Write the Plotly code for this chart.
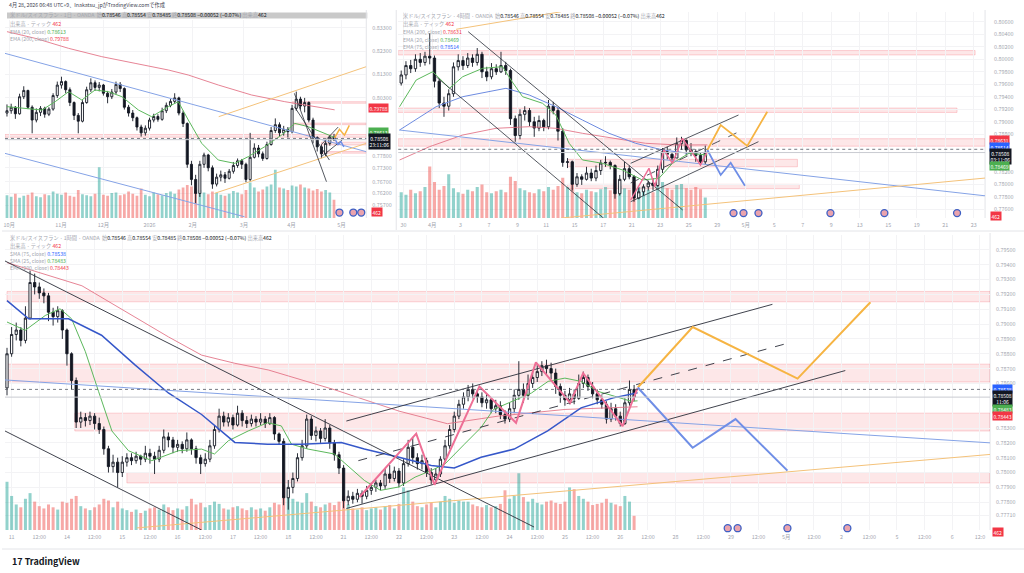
import plotly.graph_objects as go

W, H = 1024, 573
FONT = "Noto Sans CJK JP, Noto Sans, sans-serif"

# last bar shown in every header
last_open, last_high, last_low, last_close = 0.78546, 0.78554, 0.78485, 0.78508
last_change, last_change_pct, last_volume = -0.00052, -0.07, 462
prev_close = 0.78560

# price zones (shared by the three charts)
zone_bands = [(0.8007, 0.8014), (0.7915, 0.7922), (0.7861, 0.7873), (0.7828, 0.7840), (0.7793, 0.7800)]

# ---------------- daily chart (top left), one candle per 2 sessions ----------------
a_open0 = 0.7965
a_close = [0.7975, 0.7990, 0.7962, 0.8035, 0.8062, 0.7990, 0.7935, 0.7968, 0.7985, 0.7960,
           0.7982, 0.8040, 0.8085, 0.8100, 0.8065, 0.8010, 0.7955, 0.7930, 0.8010, 0.8065,
           0.8095, 0.8075, 0.8085, 0.8050, 0.8035, 0.8055, 0.8088, 0.8070, 0.7990, 0.7965,
           0.7945, 0.7905, 0.7880, 0.7900, 0.7935, 0.7950, 0.7938, 0.7975, 0.7998, 0.8015,
           0.8030, 0.7965, 0.7920, 0.7745, 0.7680, 0.7620, 0.7745, 0.7785, 0.7730, 0.7660,
           0.7690, 0.7700, 0.7685, 0.7715, 0.7740, 0.7760, 0.7745, 0.7680, 0.7775, 0.7815,
           0.7790, 0.7770, 0.7830, 0.7890, 0.7915, 0.7880, 0.7895, 0.7885, 0.7985, 0.8025,
           0.7995, 0.8010, 0.7935, 0.7860, 0.7820, 0.7790, 0.7835, 0.7862, 0.78508]
a_high = [0.8002, 0.8005, 0.7995, 0.8048, 0.8080, 0.8065, 0.7998, 0.7985, 0.7995, 0.7992,
          0.7990, 0.8050, 0.8100, 0.8121, 0.8105, 0.8075, 0.8015, 0.7965, 0.8020, 0.8078,
          0.8114, 0.8105, 0.8098, 0.8090, 0.8060, 0.8068, 0.8100, 0.8098, 0.8075, 0.8000,
          0.7978, 0.7950, 0.7915, 0.7912, 0.7945, 0.7962, 0.7960, 0.7988, 0.8010, 0.8025,
          0.8050, 0.8035, 0.7975, 0.7925, 0.7760, 0.7700, 0.7760, 0.7795, 0.7790, 0.7740,
          0.7705, 0.7718, 0.7712, 0.7725, 0.7755, 0.7770, 0.7768, 0.7752, 0.7880, 0.7835,
          0.7828, 0.7800, 0.7842, 0.7905, 0.7942, 0.7925, 0.7910, 0.7905, 0.8000, 0.8057,
          0.8035, 0.8030, 0.8015, 0.7945, 0.7865, 0.7830, 0.7845, 0.7870, 0.7876]
a_low = [0.7950, 0.7962, 0.7940, 0.7958, 0.8025, 0.7982, 0.7878, 0.7925, 0.7952, 0.7945,
         0.7952, 0.7975, 0.8030, 0.8070, 0.8050, 0.7995, 0.7935, 0.7878, 0.7925, 0.8005,
         0.8055, 0.8060, 0.8058, 0.8040, 0.8007, 0.8025, 0.8045, 0.8055, 0.7980, 0.7950,
         0.7930, 0.7890, 0.7864, 0.7868, 0.7890, 0.7925, 0.7928, 0.7932, 0.7965, 0.7990,
         0.8005, 0.7955, 0.7905, 0.7730, 0.7655, 0.7578, 0.7605, 0.7730, 0.7715, 0.7640,
         0.7650, 0.7672, 0.7665, 0.7680, 0.7705, 0.7730, 0.7725, 0.7668, 0.7670, 0.7770,
         0.7775, 0.7760, 0.7765, 0.7825, 0.7880, 0.7865, 0.7868, 0.7860, 0.7878, 0.7975,
         0.7980, 0.7968, 0.7925, 0.7835, 0.7800, 0.7771, 0.7780, 0.7825, 0.7845]
a_vol = [45, 42, 48, 40, 44, 46, 50, 43, 41, 47,
         45, 52, 48, 46, 50, 44, 42, 55, 47, 45,
         43, 48, 100, 46, 44, 49, 50, 45, 47, 52,
         48, 44, 58, 46, 43, 50, 47, 45, 49, 52,
         48, 56, 60, 65, 62, 58, 55, 50, 47, 52,
         49, 46, 44, 48, 53, 50, 47, 55, 70, 60,
         52, 56, 62, 66, 95, 60, 58, 55, 64, 62,
         66, 60, 58, 54, 57, 52, 55, 50, 36]
a_ema200_d = [0, 13.5, 29.4, 45.2, 61.1, 77, 86.5, 100.8, 116.7, 132.5, 156.3]
a_ema200_p = [0.83142, 0.82856, 0.82427, 0.82070, 0.81783, 0.81497, 0.81282, 0.80853, 0.80424, 0.80138, 0.79788]
a_ema20_d = [0, 10.3, 16.7, 23, 29.4, 35.7, 42, 48.4, 54.8, 62.7, 69, 77, 81.7, 86.5, 92.9,
             100.8, 108.7, 115.1, 123, 131, 137.3, 143.7, 156]
a_ema20_p = [0.79924, 0.79852, 0.79780, 0.80138, 0.80567, 0.80209, 0.80639, 0.80567, 0.80353, 0.79780,
             0.79494, 0.79924, 0.80138, 0.79351, 0.78350, 0.77634, 0.77491, 0.77778, 0.78207, 0.78707,
             0.79208, 0.79065, 0.78613]
a_blue_top = ([-0.95, 171.4], [0.82212, 0.77992])
a_blue_bottom = ([-0.95, 113.3], [0.77920, 0.75200])
a_orange_top = ([101.0, 171.4], [0.79494, 0.81640])
a_orange_bottom = ([99.0, 171.4], [0.76204, 0.78350])
a_fall_1 = ([137.1, 152.4], [0.80496, 0.76704])
a_fall_2 = ([137.1, 153.8], [0.79923, 0.77634])
a_rise_1 = ([150.0, 160.0], [0.7778, 0.7850])
a_rise_2 = ([150.0, 158.0], [0.7830, 0.7905])
a_up_path = ([156.2, 158.6, 161.0, 163.3], [0.7857, 0.7895, 0.7870, 0.7912])
a_down_path = ([156.2, 157.9, 159.3, 160.7], [0.7857, 0.7830, 0.7842, 0.7820])
a_zones = [(135.7, 171.4, 0), (135.7, 171.4, 1), (-0.95, 171.4, 2), (150.0, 171.4, 3), (150.0, 171.4, 4)]
a_events = [158.6, 165.2, 169.0]
a_tick_pos = [1, 25.7, 46, 68, 88.6, 113, 135.7, 159.5]
a_tick_labels = ["10月", "11月", "12月", "2026", "2月", "3月", "4月", "5月"]
a_price_ticks = [0.833, 0.823, 0.813, 0.803, 0.778, 0.773, 0.767, 0.762, 0.757]

# ---------------- 4h chart (top right), one candle per 2 bars ----------------
b_open0 = 0.7962
b_close = [0.7975, 0.7990, 0.7985, 0.8000, 0.7995, 0.8005, 0.8002, 0.7965, 0.7930, 0.7925,
           0.7945, 0.7988, 0.7998, 0.7990, 0.8002, 0.7995, 0.8008, 0.7980, 0.7972, 0.7985,
           0.7980, 0.7990, 0.7982, 0.7905, 0.7878, 0.7912, 0.7918, 0.7900, 0.7890, 0.7902,
           0.7892, 0.7925, 0.7918, 0.7885, 0.7835, 0.7836, 0.7800, 0.7812, 0.7808, 0.7818,
           0.7810, 0.7822, 0.7834, 0.7835, 0.7830, 0.7785, 0.7808, 0.7825, 0.7812, 0.7778,
           0.7788, 0.7796, 0.7802, 0.7798, 0.7824, 0.7852, 0.7848, 0.7842, 0.7865, 0.7870,
           0.7855, 0.7852, 0.7846, 0.7836, 0.78508]
b_high = [0.7982, 0.7997, 0.7999, 0.8008, 0.8010, 0.8012, 0.8042, 0.8006, 0.7970, 0.7940,
          0.7952, 0.7995, 0.8008, 0.8005, 0.8010, 0.8008, 0.8018, 0.8012, 0.7988, 0.7994,
          0.7992, 0.8012, 0.7996, 0.7985, 0.7910, 0.7920, 0.7925, 0.7922, 0.7908, 0.7910,
          0.7905, 0.7935, 0.7932, 0.7922, 0.7890, 0.7842, 0.7838, 0.7818, 0.7816, 0.7828,
          0.7825, 0.7830, 0.7839, 0.7845, 0.7838, 0.7832, 0.7815, 0.7836, 0.7830, 0.7815,
          0.7795, 0.7800, 0.7806, 0.7810, 0.7830, 0.7858, 0.7860, 0.7852, 0.7875, 0.7876,
          0.7872, 0.7866, 0.7856, 0.7850, 0.7862]
b_low = [0.7958, 0.7968, 0.7978, 0.7980, 0.7988, 0.7990, 0.7992, 0.7955, 0.7922, 0.7908,
         0.7918, 0.7940, 0.7982, 0.7983, 0.7986, 0.7988, 0.7990, 0.7970, 0.7965, 0.7968,
         0.7975, 0.7978, 0.7975, 0.7895, 0.7868, 0.7872, 0.7902, 0.7893, 0.7876, 0.7885,
         0.7885, 0.7888, 0.7912, 0.7870, 0.7828, 0.7826, 0.7790, 0.7796, 0.7799, 0.7806,
         0.7805, 0.7805, 0.7815, 0.7828, 0.7824, 0.7777, 0.7782, 0.7805, 0.7808, 0.7772,
         0.7776, 0.7782, 0.7790, 0.7790, 0.7796, 0.7818, 0.7840, 0.7833, 0.7842, 0.7855,
         0.7846, 0.7845, 0.7836, 0.7830, 0.7832]
b_vol = [50, 45, 55, 48, 52, 60, 100, 70, 55, 62,
         85, 58, 50, 47, 55, 52, 60, 65, 50, 48,
         52, 55, 50, 80, 72, 58, 54, 50, 48, 56,
         52, 60, 55, 62, 78, 60, 66, 50, 48, 55,
         52, 50, 56, 60, 54, 75, 62, 58, 55, 72,
         60, 52, 55, 50, 62, 70, 58, 55, 64, 66,
         58, 55, 60, 56, 40]
b_ema20_k = [-0.7, 6.3, 13.3, 20.3, 25.9, 34.3, 42.7, 46.2, 51.1, 59.5,
             65.1, 70.7, 76.3, 84.7, 93.1, 101.5, 108.5, 114.2, 121.1, 128.9]
b_ema20_p = [0.79242, 0.79669, 0.79802, 0.79536, 0.79722, 0.79856, 0.79882, 0.79669, 0.79402, 0.79296,
             0.79109, 0.78656, 0.78390, 0.78336, 0.78230, 0.78070, 0.78096, 0.78336, 0.78496, 0.78469]
b_ema75_k = [-0.7, 14.7, 25.9, 37.1, 44.1, 53.9, 65.1, 76.3, 87.5, 98.7, 110, 121.1, 128.9]
b_ema75_p = [0.78869, 0.79242, 0.79402, 0.79482, 0.79536, 0.79429, 0.79242, 0.79029, 0.78816, 0.78656,
             0.78550, 0.78496, 0.78514]
b_ema200_k = [-0.7, 11.9, 25.9, 39.9, 53.9, 65.1, 76.3, 88.9, 102.9, 116.9, 128.9]
b_ema200_p = [0.78389, 0.78602, 0.78789, 0.78896, 0.78922, 0.78896, 0.78816, 0.78736, 0.78656, 0.78629, 0.78631]
b_fall_top = ([28.2, 118.5], [0.80442, 0.77589])
b_fall_bottom = ([14.7, 86.1], [0.79722, 0.77429])
b_rise_bottom = ([96.6, 150.4], [0.77722, 0.78682])
b_rise_top = ([96.6, 142.0], [0.78336, 0.79109])
b_rise_mid = ([96.6, 143.7], [0.78021, 0.78869])
b_blue_trend = ([-0.8, 245.8], [0.78869, 0.77816])
b_orange_low = ([67.2, 245.8], [0.77460, 0.78100])
b_orange_high = ([23.1, 67.2], [0.80480, 0.80760])
b_zigzag = ([96.6, 104.3, 106.8, 110.6, 114.2, 118.4, 126.0, 128.9],
            [0.77749, 0.78256, 0.77962, 0.78549, 0.78336, 0.78736, 0.78309, 0.78522])
b_up_path = ([128.9, 134.5, 145.7, 154.1], [0.78549, 0.78949, 0.78613, 0.79162])
b_down_path = ([128.9, 134.5, 138.7, 144.7], [0.78549, 0.78149, 0.78346, 0.77978])
b_zones = [(-1.3, 241.6, 0), (-1.3, 234.0, 1), (-1.3, 245.8, 2), (70.0, 166.8, 3), (70.0, 167.6, 4)]
b_events = [139.9, 144.1, 150.4, 180.7, 203.4, 234.0]
b_tick_labels = ["30", "4月", "3", "7", "9", "11", "15", "17", "21", "23", "25", "29",
                 "5月", "5", "7", "9", "13", "15", "19", "21", "23"]
b_price_ticks = [0.806, 0.804, 0.802, 0.800, 0.798, 0.796, 0.794, 0.792, 0.790, 0.788,
                 0.782, 0.780, 0.778, 0.776]

# ---------------- 1h chart (bottom), one candle per 2 hours ----------------
c_open0 = 0.7857
c_close = [0.7880, 0.7893, 0.7896, 0.7889, 0.7904, 0.7928, 0.7925, 0.7921, 0.7919, 0.7908,
           0.7905, 0.7909, 0.7896, 0.7880, 0.7862, 0.7834, 0.7837, 0.7835, 0.7838, 0.7833,
           0.7829, 0.7816, 0.7804, 0.7807, 0.7800, 0.7807, 0.7810, 0.7808, 0.7811, 0.7809,
           0.7813, 0.7811, 0.7809, 0.7815, 0.7824, 0.7822, 0.7817, 0.7819, 0.7816, 0.7822,
           0.7816, 0.7810, 0.7806, 0.7809, 0.7818, 0.7829, 0.7838, 0.7834, 0.7837, 0.7832,
           0.7840, 0.7835, 0.7833, 0.7836, 0.7834, 0.7836, 0.7833, 0.7837, 0.7826, 0.7821,
           0.7783, 0.7790, 0.7796, 0.7810, 0.7818, 0.7836, 0.7825, 0.7828, 0.7823, 0.7830,
           0.7820, 0.7812, 0.7803, 0.7781, 0.7784, 0.7782, 0.7786, 0.7784, 0.7788, 0.7790,
           0.7793, 0.7791, 0.7799, 0.7796, 0.7801, 0.7793, 0.7806, 0.7817, 0.7810, 0.7806,
           0.7808, 0.7800, 0.7795, 0.7799, 0.7809, 0.7818, 0.7829, 0.7838, 0.7846, 0.7851,
           0.7856, 0.7853, 0.7851, 0.7847, 0.7849, 0.7843, 0.7845, 0.7839, 0.7836, 0.7843,
           0.7852, 0.7856, 0.7852, 0.7860, 0.7864, 0.7868, 0.7872, 0.7870, 0.7867, 0.7858,
           0.7852, 0.7849, 0.7853, 0.7850, 0.7860, 0.7864, 0.7858, 0.7853, 0.7849, 0.7846,
           0.7836, 0.7843, 0.7838, 0.7833, 0.7847, 0.7856, 0.78508]
c_high = [0.7884, 0.7898, 0.7901, 0.7898, 0.7912, 0.7936, 0.7934, 0.7928, 0.7924, 0.7921,
          0.7911, 0.7912, 0.7910, 0.7897, 0.7881, 0.7864, 0.7841, 0.7840, 0.7841, 0.7840,
          0.7837, 0.7831, 0.7818, 0.7812, 0.7810, 0.7811, 0.7813, 0.7813, 0.7814, 0.7812,
          0.7818, 0.7816, 0.7814, 0.7818, 0.7829, 0.7827, 0.7824, 0.7822, 0.7821, 0.7827,
          0.7823, 0.7818, 0.7812, 0.7813, 0.7822, 0.7832, 0.7843, 0.7841, 0.7840, 0.7839,
          0.7845, 0.7842, 0.7838, 0.7839, 0.7838, 0.7840, 0.7838, 0.7840, 0.7838, 0.7827,
          0.7823, 0.7795, 0.7800, 0.7813, 0.7822, 0.7839, 0.7838, 0.7831, 0.7830, 0.7836,
          0.7832, 0.7822, 0.7814, 0.7805, 0.7788, 0.7787, 0.7789, 0.7788, 0.7791, 0.7793,
          0.7795, 0.7795, 0.7803, 0.7805, 0.7804, 0.7803, 0.7809, 0.7822, 0.7824, 0.7813,
          0.7812, 0.7810, 0.7803, 0.7803, 0.7811, 0.7822, 0.7832, 0.7841, 0.7849, 0.7854,
          0.7859, 0.7860, 0.7856, 0.7854, 0.7853, 0.7850, 0.7849, 0.7848, 0.7842, 0.7847,
          0.7856, 0.7875, 0.7860, 0.7866, 0.7868, 0.7873, 0.7875, 0.7876, 0.7874, 0.7870,
          0.7860, 0.7855, 0.7857, 0.7856, 0.7866, 0.7868, 0.7866, 0.7861, 0.7856, 0.7852,
          0.7848, 0.7847, 0.7846, 0.7841, 0.7850, 0.7862, 0.7859]
c_low = [0.7852, 0.7878, 0.7889, 0.7885, 0.7887, 0.7903, 0.7920, 0.7917, 0.7914, 0.7902,
         0.7899, 0.7901, 0.7890, 0.7872, 0.7856, 0.7830, 0.7830, 0.7831, 0.7832, 0.7829,
         0.7826, 0.7812, 0.7800, 0.7800, 0.7790, 0.7797, 0.7804, 0.7805, 0.7806, 0.7805,
         0.7807, 0.7806, 0.7799, 0.7807, 0.7813, 0.7817, 0.7813, 0.7814, 0.7813, 0.7814,
         0.7812, 0.7806, 0.7799, 0.7804, 0.7807, 0.7816, 0.7827, 0.7831, 0.7831, 0.7829,
         0.7831, 0.7831, 0.7830, 0.7831, 0.7831, 0.7832, 0.7830, 0.7832, 0.7822, 0.7819,
         0.7778, 0.7775, 0.7786, 0.7794, 0.7808, 0.7816, 0.7822, 0.7821, 0.7820, 0.7821,
         0.7816, 0.7808, 0.7799, 0.7776, 0.7778, 0.7779, 0.7780, 0.7779, 0.7782, 0.7785,
         0.7787, 0.7788, 0.7789, 0.7793, 0.7794, 0.7790, 0.7791, 0.7804, 0.7806, 0.7802,
         0.7802, 0.7797, 0.7792, 0.7793, 0.7797, 0.7807, 0.7816, 0.7827, 0.7836, 0.7843,
         0.7848, 0.7850, 0.7847, 0.7844, 0.7843, 0.7840, 0.7840, 0.7836, 0.7833, 0.7834,
         0.7840, 0.7849, 0.7847, 0.7849, 0.7857, 0.7861, 0.7865, 0.7866, 0.7863, 0.7853,
         0.7847, 0.7845, 0.7846, 0.7846, 0.7849, 0.7857, 0.7855, 0.7850, 0.7846, 0.7843,
         0.7833, 0.7834, 0.7835, 0.7831, 0.7832, 0.7845, 0.7848]
c_vol = [85, 60, 45, 40, 55, 65, 50, 42, 38, 45,
         40, 36, 50, 48, 55, 60, 42, 38, 35, 40,
         45, 55, 52, 40, 50, 38, 35, 32, 36, 30,
         34, 38, 40, 36, 45, 40, 35, 38, 36, 42,
         55, 45, 48, 40, 44, 50, 46, 38, 36, 40,
         42, 38, 35, 40, 36, 38, 34, 40, 48, 45,
         80, 70, 55, 50, 48, 65, 50, 42, 40, 45,
         48, 44, 50, 60, 45, 38, 36, 40, 35, 38,
         40, 36, 42, 44, 38, 46, 75, 70, 50, 42,
         40, 45, 48, 40, 50, 60, 55, 48, 52, 50,
         50, 45, 42, 40, 44, 40, 42, 46, 70, 55,
         60, 100, 58, 50, 55, 48, 45, 50, 52, 48,
         46, 50, 75, 72, 60, 55, 50, 44, 46, 48,
         55, 48, 45, 42, 60, 50, 25]
c_ema200_h = [0, 32.5, 55.5, 70, 84.4, 98.8, 113.3, 127.7, 142, 170, 191, 213, 242, 273.5]
c_ema200_p = [0.79414, 0.79258, 0.79047, 0.78914, 0.78791, 0.78736, 0.78691, 0.78625, 0.78558,
              0.78414, 0.78329, 0.78380, 0.78425, 0.78443]
c_sma75_h = [0, 9.4, 26.7, 41, 55.5, 70, 84.4, 98.8, 113, 127.7, 145, 155, 170, 184, 194,
             205.6, 220, 234.5, 249, 263, 273.5]
c_sma75_p = [0.79158, 0.79036, 0.79036, 0.78925, 0.78725, 0.78536, 0.78391, 0.78203, 0.78191, 0.78191,
             0.78203, 0.78158, 0.78103, 0.78047, 0.78031, 0.78103, 0.78158, 0.78280, 0.78436, 0.78503,
             0.78538]
c_sma25_h = [0, 7.9, 16.6, 23, 28, 34, 39.7, 45.5, 52.7, 62.8,
             74.3, 84.4, 90, 96, 104.6, 113, 119, 123.4, 130.6, 142,
             155, 162, 170, 177, 184, 190, 198.4, 205.6, 211, 219,
             227.5, 234.7, 242, 249, 256.3, 263.5, 270.7, 273.5]
c_sma25_p = [0.79014, 0.78958, 0.79058, 0.79103, 0.79036, 0.78814, 0.78547, 0.78280, 0.78147, 0.78080,
             0.78147, 0.78158, 0.78125, 0.78214, 0.78280, 0.78336, 0.78314, 0.78191, 0.78158, 0.78125,
             0.77947, 0.77880, 0.77903, 0.77969, 0.78014, 0.78058, 0.78191, 0.78303, 0.78425, 0.78480,
             0.78536, 0.78614, 0.78636, 0.78614, 0.78547, 0.78514, 0.78480, 0.78483]
c_fall_top = ([-0.87, 228.6], [0.79425, 0.77633])
c_fall_bottom = ([-0.87, 84.4], [0.78280, 0.77613])
c_rise_bottom = ([147.2, 363.6], [0.77758, 0.78687])
c_rise_top = ([147.2, 332.0], [0.78347, 0.79133])
c_rise_mid = ([152.4, 337.7], [0.78080, 0.78867])
c_blue_trend = ([-2.2, 426.4], [0.78625, 0.78200])
c_orange_trend = ([56.3, 426.4], [0.77627, 0.78122])
c_zigzag = ([152.9, 177.5, 185.4, 204.9, 220.8, 229.4, 244.3, 249.9, 267.0, 273.5],
            [0.77835, 0.78262, 0.77918, 0.78580, 0.78335, 0.78742, 0.78469, 0.78669, 0.78313, 0.78569])
c_up_path = ([273.6, 297.4, 342.9, 374.5], [0.78573, 0.78980, 0.78633, 0.79147])
c_down_path = ([273.6, 297.4, 316.0, 338.5], [0.78573, 0.78167, 0.78360, 0.78013])
c_zones = [(0.0, 426.4, 1), (0.0, 426.4, 2), (29.4, 426.4, 3), (52.0, 426.4, 4)]
c_events = [312.6, 316.9, 338.5, 364.5]
c_tick_labels = ["11", "12:00", "14", "12:00", "15", "12:00", "16", "12:00", "17", "12:00",
                 "18", "12:00", "21", "12:00", "22", "12:00", "23", "12:00", "24", "12:00",
                 "25", "12:00", "26", "12:00", "28", "12:00", "29", "12:00", "5月", "12:00",
                 "2", "12:00", "5", "12:00", "6", "12:0"]
c_price_ticks = [0.795, 0.794, 0.793, 0.792, 0.791, 0.790, 0.789, 0.788, 0.787, 0.786,
                 0.783, 0.782, 0.781, 0.780, 0.779, 0.778, 0.7771]

# ---------------- styles ----------------
INK = "#131722"
GRAY = "#a3a6af"
GRID = "#f3f3f5"
RED = "#f23645"
GREEN = "#4caf50"
BLUE = "#2962ff"
PINK_MA = "rgba(226,110,130,0.85)"
GREEN_MA = "#5cb85c"
BLUE_MA = "#3557c9"
LIGHT_BLUE = "#85a3e6"
LIGHT_ORANGE = "#f4c27a"
PROJ_ORANGE = "#f6b443"
PROJ_BLUE = "#6f8ee6"
ZIGZAG = "#ee6f96"


def px(x):
    return x / W


def py(y):
    return 1 - y / H


def opens(first, closes):
    return [first] + closes[:-1]


fig = go.Figure()


def add_candles(x, o, c, h, l, xa, ya):
    fig.add_trace(go.Candlestick(
        x=x, open=o, high=h, low=l, close=c, xaxis=xa, yaxis=ya,
        increasing=dict(line=dict(color=INK, width=0.9), fillcolor="#ffffff"),
        decreasing=dict(line=dict(color=INK, width=0.9), fillcolor=INK),
        whiskerwidth=0, hoverinfo="skip", showlegend=False))


def add_volume(x, o, c, v, xa, ya):
    cols = ["rgba(38,166,154,0.5)" if cc >= oo else "rgba(239,83,80,0.5)" for oo, cc in zip(o, c)]
    fig.add_trace(go.Bar(x=x, y=v, marker_color=cols, marker_line_width=0, width=1.3,
                         xaxis=xa, yaxis=ya, hoverinfo="skip", showlegend=False))


def add_line(xs, ys, xa, ya, color, width=1.0, dash="solid"):
    fig.add_trace(go.Scatter(x=xs, y=ys, mode="lines", line=dict(color=color, width=width, dash=dash),
                             xaxis=xa, yaxis=ya, hoverinfo="skip", showlegend=False))


def add_events(xs, y, xa, ya):
    fig.add_trace(go.Scatter(x=xs, y=[y] * len(xs), mode="markers", cliponaxis=False,
                             marker=dict(symbol="circle", size=7, color="#eaa3ad",
                                         line=dict(color="#3d5fc4", width=1.3)),
                             xaxis=xa, yaxis=ya, hoverinfo="skip", showlegend=False))


shapes = []


def add_zones(zones, xa, ya):
    for x0, x1, i in zones:
        lo, hi = zone_bands[i]
        shapes.append(dict(type="rect", xref=xa, yref=ya, x0=x0, x1=x1, y0=lo, y1=hi, layer="below",
                           fillcolor="rgba(242,54,69,0.12)", line=dict(color="rgba(242,54,69,0.3)", width=0.7)))


def add_price_lines(xa, ya):
    shapes.append(dict(type="line", xref=xa + " domain", yref=ya, x0=0, x1=1, y0=last_close, y1=last_close,
                       line=dict(color="#c9cbd1", width=1)))
    shapes.append(dict(type="line", xref=xa + " domain", yref=ya, x0=0, x1=1, y0=prev_close, y1=prev_close,
                       line=dict(color="#555a66", width=0.8, dash="dot")))


# daily
a_x = [2 * i for i in range(len(a_close))]
a_open = opens(a_open0, a_close)
add_zones(a_zones, "x", "y2")
add_price_lines("x", "y2")
add_volume(a_x, a_open, a_close, a_vol, "x", "y")
add_candles(a_x, a_open, a_close, a_high, a_low, "x", "y2")
add_line(a_ema200_d, a_ema200_p, "x", "y2", PINK_MA)
add_line(a_ema20_d, a_ema20_p, "x", "y2", GREEN_MA)
for seg in (a_blue_top, a_blue_bottom):
    add_line(seg[0], seg[1], "x", "y2", LIGHT_BLUE)
for seg in (a_orange_top, a_orange_bottom):
    add_line(seg[0], seg[1], "x", "y2", LIGHT_ORANGE)
for seg in (a_fall_1, a_fall_2, a_rise_1, a_rise_2):
    add_line(seg[0], seg[1], "x", "y2", "#2a2e39", 0.8)
add_line(a_up_path[0], a_up_path[1], "x", "y2", PROJ_ORANGE, 1.5)
add_line(a_down_path[0], a_down_path[1], "x", "y2", PROJ_BLUE, 1.5)
add_events(a_events, 0.7538, "x", "y2")

# 4h
b_x = [2 * i for i in range(len(b_close))]
b_open = opens(b_open0, b_close)
add_zones(b_zones, "x2", "y4")
add_price_lines("x2", "y4")
add_volume(b_x, b_open, b_close, b_vol, "x2", "y3")
add_candles(b_x, b_open, b_close, b_high, b_low, "x2", "y4")
add_line(b_ema200_k, b_ema200_p, "x2", "y4", PINK_MA)
add_line(b_ema75_k, b_ema75_p, "x2", "y4", "#6d8be0")
add_line(b_ema20_k, b_ema20_p, "x2", "y4", GREEN_MA)
add_line(b_blue_trend[0], b_blue_trend[1], "x2", "y4", LIGHT_BLUE)
for seg in (b_orange_low, b_orange_high):
    add_line(seg[0], seg[1], "x2", "y4", LIGHT_ORANGE)
for seg in (b_fall_top, b_fall_bottom, b_rise_bottom, b_rise_top):
    add_line(seg[0], seg[1], "x2", "y4", "#2a2e39", 0.8)
add_line(b_rise_mid[0], b_rise_mid[1], "x2", "y4", "#2a2e39", 0.8, "dash")
add_line(b_zigzag[0], b_zigzag[1], "x2", "y4", ZIGZAG, 1.5)
add_line(b_up_path[0], b_up_path[1], "x2", "y4", PROJ_ORANGE, 1.8)
add_line(b_down_path[0], b_down_path[1], "x2", "y4", PROJ_BLUE, 1.8)
add_events(b_events, 0.7754, "x2", "y4")

# 1h
c_x = [2 * i for i in range(len(c_close))]
c_open = opens(c_open0, c_close)
add_zones(c_zones, "x3", "y6")
add_price_lines("x3", "y6")
add_volume(c_x, c_open, c_close, c_vol, "x3", "y5")
add_candles(c_x, c_open, c_close, c_high, c_low, "x3", "y6")
add_line(c_ema200_h, c_ema200_p, "x3", "y6", PINK_MA)
add_line(c_sma25_h, c_sma25_p, "x3", "y6", GREEN_MA)
add_line(c_sma75_h, c_sma75_p, "x3", "y6", BLUE_MA, 1.5)
add_line(c_blue_trend[0], c_blue_trend[1], "x3", "y6", LIGHT_BLUE)
add_line(c_orange_trend[0], c_orange_trend[1], "x3", "y6", LIGHT_ORANGE)
for seg in (c_fall_top, c_fall_bottom, c_rise_bottom, c_rise_top):
    add_line(seg[0], seg[1], "x3", "y6", "#2a2e39", 0.9)
add_line(c_rise_mid[0], c_rise_mid[1], "x3", "y6", "#2a2e39", 0.9, "dash")
add_line(c_zigzag[0], c_zigzag[1], "x3", "y6", ZIGZAG, 2)
add_line(c_up_path[0], c_up_path[1], "x3", "y6", PROJ_ORANGE, 2)
add_line(c_down_path[0], c_down_path[1], "x3", "y6", PROJ_BLUE, 2)
add_events(c_events, 0.77625, "x3", "y6")

# panel frames
shapes.append(dict(type="rect", xref="paper", yref="paper", x0=px(5), x1=px(366), y0=py(18.5), y1=py(12.5),
                   fillcolor="#c9c9c9", line=dict(width=0), layer="below"))
for x0, y0, x1, y1 in [(395, 10, 395, 230), (0, 231, 1024, 231), (0, 549, 1024, 549),
                       (365, 10, 365, 218), (985, 10, 985, 218), (990, 233, 990, 530)]:
    shapes.append(dict(type="line", xref="paper", yref="paper", x0=px(x0), x1=px(x1), y0=py(y0), y1=py(y1),
                       line=dict(color="#e3e4e8", width=1), layer="below"))

annotations = []


def text(t, x, y, size=5.2, color=INK, xanchor="left", bg=None, bold=False, pad=1):
    annotations.append(dict(text=f"<b>{t}</b>" if bold else t, x=px(x), y=py(y), xref="paper", yref="paper",
                            xanchor=xanchor, yanchor="middle", showarrow=False, bgcolor=bg, borderpad=pad,
                            font=dict(size=size, color=color, family=FONT)))


def badge(t, x, y, bg):
    text(t, x, y, 5.0, "#ffffff", bg=bg, pad=0.5)


def g(t):
    return f"<span style='color:{GRAY}'>{t}</span>"


def ohlc_line(tf):
    chg = f"{last_change:+.5f} ({last_change_pct:+.2f}%)".replace("-", "−")
    return (g(f"米ドル/スイスフラン · {tf} · OANDA  始") + f"{last_open:.5f} " + g("高") + f"{last_high:.5f} "
            + g("安") + f"{last_low:.5f} " + g("終") + f"{last_close:.5f} {chg} " + g("出来高") + f"{last_volume}")


def ind_line(name, value, color):
    return g(name) + f" <span style='color:{color}'>{value:.5f}</span>"


vol_line = g("出来高 · ティック") + f" <span style='color:{RED}'>{last_volume}</span>"

text("4月 28, 2026 06:48 UTC+9、Inakatsu_jpがTradingView.comで作成", 5, 4.5, 5.2, "#3d4150")

text(ohlc_line("1日"), 6, 15.5)
text(vol_line, 6, 24)
text(ind_line("EMA (20, close)", a_ema20_p[-1], GREEN), 6, 31.5)
text(ind_line("EMA (200, close)", a_ema200_p[-1], RED), 6, 38.5)

text(ohlc_line("4時間"), 400, 16.5)
text(vol_line, 400, 24)
text(ind_line("EMA (200, close)", b_ema200_p[-1], RED), 400, 31.5)
text(ind_line("EMA (20, close)", b_ema20_p[-1], GREEN), 400, 39)
text(ind_line("EMA (75, close)", b_ema75_p[-1], BLUE), 400, 46)

text(ohlc_line("1時間"), 6, 238)
text(vol_line, 6, 245.5)
text(ind_line("SMA (75, close)", c_sma75_p[-1], BLUE), 6, 253)
text(ind_line("SMA (25, close)", c_sma25_p[-1], GREEN), 6, 260)
text(ind_line("EMA (200, close)", c_ema200_p[-1], RED), 6, 267)

# price badges on the axes
badge(f"{a_ema200_p[-1]:.5f}", 367, 108.5, RED)
badge(f"{a_ema20_p[-1]:.5f}", 367, 131.5, GREEN)
badge(f"{last_close:.5f}<br>23:11:06", 367, 141, INK)
badge(f"{last_volume}", 370, 212, RED)

badge(f"{b_ema200_p[-1]:.5f}", 989, 140, RED)
badge(f"{b_ema75_p[-1]:.5f}", 989, 147, BLUE)
badge(f"{last_close:.5f}<br>03:11:06", 989, 156, INK)
badge(f"{b_ema20_p[-1]:.5f}", 989, 165.5, GREEN)
badge(f"{last_volume}", 990, 216, RED)

badge(f"{c_sma75_p[-1]:.5f}", 992, 389.5, BLUE)
badge(f"{last_close:.5f}<br>11:06", 992, 398.5, INK)
badge(f"{c_sma25_p[-1]:.5f}", 992, 408.5, GREEN)
badge(f"{c_ema200_p[-1]:.5f}", 992, 415.5, RED)
badge(f"{last_volume}", 992, 532, RED)

text("17 TradingView", 8, 561, 9, "#131722", bold=True)

TICKFONT = dict(size=5.4, color=GRAY, family=FONT)


def xaxis(dom, rng, vals, labels, anchor):
    return dict(domain=[px(dom[0]), px(dom[1])], range=rng, tickvals=vals, ticktext=labels, anchor=anchor,
                showgrid=True, gridcolor=GRID, zeroline=False, showline=False, ticks="", tickfont=TICKFONT,
                rangeslider=dict(visible=False), fixedrange=True, ticklabelstandoff=3)


def vol_axis(dom, top, anchor):
    return dict(domain=[py(dom[1]), py(dom[0])], range=[0, top], visible=False, anchor=anchor, fixedrange=True)


def price_axis(rng, ticks, over, anchor, standoff):
    return dict(range=rng, overlaying=over, anchor=anchor, side="right", tickvals=ticks,
                ticktext=[f"{t:.5f}" for t in ticks], showgrid=True, gridcolor=GRID, zeroline=False,
                showline=False, ticks="", tickfont=TICKFONT, fixedrange=True, ticklabelstandoff=standoff)


fig.update_layout(
    width=W, height=H, margin=dict(l=0, r=0, t=0, b=0),
    paper_bgcolor="white", plot_bgcolor="white", showlegend=False,
    font=dict(family=FONT, size=5.4, color=GRAY),
    xaxis=xaxis((3, 365), [-0.95, 171.4], a_tick_pos, a_tick_labels, "y"),
    xaxis2=xaxis((397, 985), [-1.26, 245.8], [1 + 12 * i for i in range(len(b_tick_labels))], b_tick_labels, "y3"),
    xaxis3=xaxis((3, 990), [-0.87, 426.4], [2 + 12 * i for i in range(len(c_tick_labels))], c_tick_labels, "y5"),
    yaxis=vol_axis((20, 218), 390, "x"),
    yaxis2=price_axis([0.75146, 0.83643], a_price_ticks, "y", "x", 5),
    yaxis3=vol_axis((12, 218), 400, "x2"),
    yaxis4=price_axis([0.77461, 0.80757], b_price_ticks, "y3", "x2", 8),
    yaxis5=vol_axis((235, 530), 520, "x3"),
    yaxis6=price_axis([0.77613, 0.79600], c_price_ticks, "y5", "x3", 5),
    shapes=shapes, annotations=annotations,
)

# the page's default body margin would push the chart 8px off the window
fig.write_html("out.html", config={"displayModeBar": False, "staticPlot": True},
               post_script="document.body.style.margin='0';document.body.style.overflow='hidden';")
